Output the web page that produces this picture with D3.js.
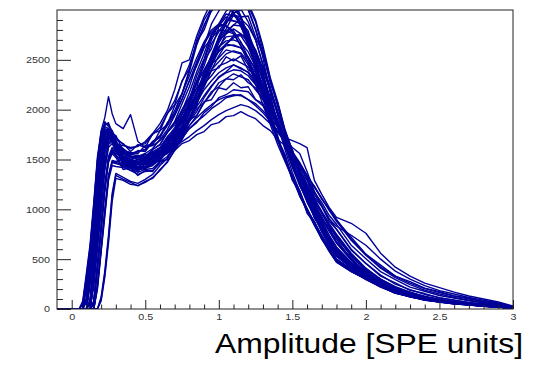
<!DOCTYPE html>
<html>
<head>
<meta charset="utf-8">
<script src="https://cdn.jsdelivr.net/npm/d3@7"></script>
<style>
    html, body { margin: 0; padding: 0; background: #fff; }
    svg { display: block; }
</style>
</head>
<body>
<div id="chart"></div>
<script>
// Bin centres in SPE units (finer steps on the pedestal edge)
const amplitudeBins = [-0.1, 0.05, 0.075, 0.1, 0.125, 0.15, 0.175, 0.2, 0.225, 0.25, 0.275, 0.3,
    0.35, 0.4, 0.45, 0.5, 0.55, 0.6, 0.65, 0.7, 0.75, 0.8,
    0.85, 0.9, 0.95, 1.0, 1.05, 1.1, 1.15, 1.2, 1.25, 1.3,
    1.35, 1.4, 1.45, 1.5, 1.55, 1.6, 1.65, 1.7, 1.75, 1.8,
    1.9, 2.0, 2.1, 2.2, 2.3, 2.4, 2.5, 2.6, 2.7, 2.8, 2.9, 3.0];

// One spectrum per channel, counts per bin
const run01 = [0, 0, 60, 330, 620, 1040, 1500, 1760, 1860, 1850, 1780, 1720,
    1650, 1610, 1640, 1660, 1750, 1820, 1960, 2090, 2280, 2450,
    2670, 2840, 3010, 3090, 3120, 3060, 2920, 2690, 2470, 2190,
    1960, 1700, 1520, 1310, 1160, 980, 860, 710, 600, 480,
    380, 305, 228, 160, 128, 92, 74, 52, 44, 28, 20, 8];
const run02 = [0, 0, 0, 250, 560, 930, 1380, 1700, 1830, 1810, 1750, 1680,
    1500, 1430, 1460, 1450, 1520, 1550, 1660, 1740, 1910, 2050,
    2270, 2440, 2660, 2780, 2900, 2890, 2880, 2730, 2580, 2330,
    2110, 1860, 1660, 1440, 1270, 1080, 940, 780, 650, 530,
    415, 325, 240, 175, 138, 98, 80, 58, 46, 31, 21, 9];
const run03 = [0, 0, 0, 90, 420, 780, 1180, 1560, 1760, 1790, 1730, 1650,
    1440, 1410, 1370, 1400, 1410, 1480, 1530, 1640, 1740, 1910,
    2070, 2290, 2480, 2700, 2860, 3000, 3040, 3010, 2810, 2570,
    2290, 2060, 1790, 1580, 1340, 1170, 980, 850, 690, 580,
    445, 335, 242, 184, 132, 104, 76, 62, 44, 33, 20, 9];
const run04 = [0, 0, 0, 0, 280, 620, 1000, 1430, 1690, 1770, 1710, 1640,
    1600, 1540, 1590, 1580, 1680, 1720, 1870, 1960, 2160, 2380,
    2650, 2850, 2990, 3060, 3080, 2960, 2850, 2630, 2450, 2170,
    1970, 1710, 1550, 1320, 1190, 990, 880, 730, 620, 500,
    395, 312, 232, 168, 130, 94, 77, 54, 45, 29, 20, 8];
const run05 = [0, 0, 0, 0, 70, 450, 830, 1250, 1590, 1730, 1700, 1620,
    1460, 1450, 1400, 1460, 1470, 1550, 1600, 1720, 1840, 2010,
    2170, 2380, 2530, 2700, 2760, 2810, 2760, 2670, 2490, 2300,
    2060, 1860, 1630, 1460, 1260, 1110, 940, 820, 660, 560,
    435, 340, 246, 186, 136, 108, 80, 64, 47, 35, 22, 9];
const run06 = [0, 0, 0, 0, 0, 260, 640, 1030, 1420, 1650, 1680, 1600,
    1510, 1480, 1470, 1510, 1530, 1610, 1670, 1790, 1880, 2020,
    2120, 2260, 2340, 2440, 2470, 2510, 2470, 2430, 2310, 2200,
    2030, 1890, 1700, 1550, 1360, 1220, 1050, 930, 790, 700,
    495, 375, 265, 205, 148, 115, 83, 66, 47, 36, 23, 10];
const run07 = [0, 0, 0, 0, 0, 60, 420, 800, 1200, 1490, 1580, 1540,
    1420, 1390, 1350, 1380, 1390, 1460, 1510, 1620, 1730, 1900,
    2060, 2300, 2500, 2730, 2900, 3060, 3110, 3070, 2900, 2640,
    2320, 2080, 1800, 1590, 1350, 1180, 990, 860, 700, 590,
    445, 330, 250, 178, 140, 100, 82, 58, 47, 31, 21, 9];
const run08 = [0, 0, 0, 0, 0, 0, 220, 590, 960, 1310, 1470, 1460,
    1440, 1390, 1400, 1410, 1470, 1510, 1610, 1690, 1840, 1970,
    2160, 2320, 2510, 2630, 2730, 2740, 2740, 2630, 2500, 2290,
    2100, 1870, 1690, 1470, 1310, 1120, 990, 830, 710, 580,
    450, 345, 258, 190, 142, 110, 84, 66, 49, 35, 23, 10];
const run09 = [0, 0, 0, 0, 0, 0, 0, 100, 350, 700, 1130, 1340,
    1300, 1270, 1235, 1280, 1310, 1400, 1470, 1600, 1700, 1840,
    1940, 2070, 2160, 2270, 2310, 2360, 2330, 2300, 2200, 2110,
    1960, 1840, 1670, 1540, 1370, 1240, 1080, 970, 830, 740,
    545, 395, 300, 215, 168, 122, 97, 70, 55, 39, 28, 12];
const run10 = [0, 0, 0, 230, 540, 900, 1350, 1680, 1800, 1790, 1720, 1670,
    1610, 1550, 1540, 1530, 1560, 1550, 1570, 1590, 1660, 1690,
    1750, 1780, 1850, 1870, 1930, 1940, 1980, 1940, 1910, 1840,
    1790, 1700, 1640, 1530, 1450, 1320, 1230, 1100, 1010, 890,
    720, 550, 440, 330, 275, 210, 175, 130, 108, 75, 54, 20];
const run11 = [0, 0, 0, 110, 440, 800, 1200, 1580, 1780, 1810, 1750, 1690,
    1570, 1520, 1540, 1530, 1600, 1650, 1770, 1850, 2000, 2120,
    2280, 2390, 2520, 2580, 2660, 2640, 2620, 2520, 2410, 2230,
    2080, 1880, 1720, 1520, 1370, 1190, 1060, 900, 800, 670,
    495, 355, 270, 190, 148, 105, 84, 60, 47, 33, 23, 10];
const run12 = [0, 0, 0, 0, 300, 650, 1040, 1460, 1720, 1790, 1720, 1650,
    1500, 1450, 1470, 1460, 1520, 1570, 1690, 1780, 1960, 2100,
    2340, 2510, 2740, 2850, 2960, 2940, 2910, 2760, 2590, 2340,
    2110, 1850, 1650, 1430, 1260, 1070, 930, 770, 640, 530,
    410, 318, 236, 172, 134, 96, 78, 56, 45, 30, 20, 8];
const run13 = [0, 0, 0, 0, 90, 470, 860, 1280, 1620, 1760, 1720, 1650,
    1640, 1620, 1630, 1680, 1760, 1860, 1990, 2200, 2470, 2500,
    2740, 2930, 3080, 3150, 3160, 3090, 2940, 2730, 2480, 2210,
    1950, 1710, 1500, 1310, 1140, 980, 840, 700, 580, 470,
    375, 300, 220, 160, 122, 90, 70, 52, 40, 28, 19, 8];
const run14 = [0, 0, 0, 0, 0, 280, 660, 1060, 1450, 1680, 1700, 1620,
    1480, 1420, 1420, 1410, 1460, 1490, 1580, 1650, 1790, 1910,
    2100, 2260, 2460, 2610, 2770, 2850, 2910, 2840, 2700, 2450,
    2230, 1980, 1770, 1540, 1360, 1160, 1020, 850, 720, 600,
    455, 338, 254, 186, 142, 106, 82, 62, 48, 33, 22, 9];
const run15 = [0, 0, 0, 0, 0, 80, 440, 830, 1230, 1510, 1600, 1560,
    1530, 1500, 1480, 1490, 1520, 1560, 1610, 1680, 1760, 1840,
    1920, 1990, 2050, 2100, 2130, 2150, 2140, 2100, 2040, 1970,
    1880, 1780, 1720, 1690, 1660, 1620, 1290, 1150, 1020, 920,
    860, 760, 560, 420, 330, 260, 215, 170, 130, 100, 70, 30];
const run16 = [0, 0, 0, 0, 0, 0, 240, 610, 990, 1330, 1480, 1470,
    1450, 1430, 1390, 1430, 1450, 1520, 1560, 1650, 1710, 1810,
    1870, 1970, 2030, 2120, 2150, 2200, 2190, 2180, 2100, 2040,
    1920, 1830, 1690, 1580, 1430, 1320, 1170, 1070, 940, 850,
    640, 505, 375, 295, 220, 178, 135, 110, 82, 63, 41, 18];
const run17 = [0, 0, 40, 300, 600, 1020, 1480, 1790, 1920, 2130, 1960, 1860,
    1810, 1950, 1680, 1620, 1640, 1690, 1770, 1870, 1990, 2120,
    2260, 2400, 2530, 2630, 2690, 2700, 2670, 2580, 2430, 2250,
    2050, 1850, 1650, 1460, 1290, 1120, 970, 830, 700, 590,
    455, 345, 256, 190, 145, 110, 85, 65, 50, 36, 24, 10];
const run18 = [0, 0, 0, 70, 400, 760, 1160, 1540, 1740, 1770, 1710, 1630,
    1460, 1420, 1400, 1410, 1440, 1500, 1580, 1680, 1810, 1970,
    2150, 2350, 2550, 2730, 2880, 2970, 3000, 3040, 2880, 2600,
    2300, 2030, 1780, 1550, 1340, 1160, 990, 840, 700, 580,
    445, 332, 248, 182, 136, 102, 79, 60, 46, 32, 21, 9];
const run19 = [0, 0, 0, 0, 50, 430, 810, 1230, 1570, 1710, 1680, 1600,
    1500, 1470, 1450, 1470, 1500, 1550, 1620, 1710, 1810, 1920,
    2030, 2140, 2240, 2320, 2370, 2400, 2390, 2340, 2250, 2140,
    2000, 1850, 1700, 1550, 1400, 1250, 1110, 980, 860, 750,
    560, 410, 300, 225, 168, 128, 97, 74, 56, 41, 28, 12];
const run20 = [0, 0, 0, 0, 0, 0, 0, 80, 320, 660, 1080, 1310,
    1290, 1250, 1240, 1270, 1320, 1390, 1480, 1590, 1730, 1890,
    2080, 2290, 2490, 2670, 2790, 2850, 2840, 2740, 2570, 2350,
    2110, 1880, 1660, 1460, 1280, 1110, 960, 820, 680, 570,
    440, 334, 250, 180, 138, 103, 80, 61, 46, 33, 22, 9];
const run21 = [0, 0, 0, 270, 590, 960, 1420, 1730, 1880, 1830, 1790, 1700,
    1660, 1580, 1650, 1620, 1760, 1790, 1960, 2050, 2290, 2410,
    2680, 2800, 3000, 3040, 3080, 3010, 2930, 2660, 2490, 2170,
    1990, 1690, 1540, 1290, 1180, 960, 870, 700, 610, 480,
    378, 300, 230, 158, 126, 88, 73, 50, 43, 27, 19, 8];
const run22 = [0, 0, 0, 0, 260, 600, 980, 1400, 1660, 1750, 1690, 1600,
    1450, 1490, 1420, 1480, 1470, 1590, 1620, 1780, 1870, 2090,
    2220, 2490, 2610, 2830, 2870, 2960, 2880, 2790, 2540, 2380,
    2080, 1900, 1630, 1480, 1240, 1110, 910, 810, 640, 550,
    428, 328, 234, 180, 130, 104, 74, 62, 44, 34, 20, 9];
const run23 = [0, 0, 0, 0, 0, 240, 620, 1000, 1390, 1620, 1660, 1580,
    1540, 1460, 1500, 1480, 1570, 1580, 1710, 1750, 1920, 1990,
    2170, 2230, 2390, 2420, 2530, 2490, 2540, 2400, 2350, 2170,
    2070, 1860, 1740, 1520, 1400, 1190, 1080, 900, 820, 670,
    515, 355, 285, 190, 158, 105, 90, 60, 51, 32, 25, 9];
const run24 = [0, 0, 0, 0, 0, 0, 200, 570, 930, 1290, 1440, 1430,
    1420, 1450, 1380, 1460, 1480, 1540, 1590, 1720, 1760, 1900,
    1940, 2080, 2100, 2220, 2200, 2270, 2220, 2230, 2100, 2060,
    1900, 1830, 1650, 1560, 1380, 1290, 1120, 1030, 880, 800,
    590, 460, 330, 262, 188, 155, 110, 90, 64, 52, 31, 14];
const run25 = [0, 0, 80, 360, 650, 1070, 1530, 1780, 1840, 1870, 1760, 1740,
    1590, 1560, 1580, 1600, 1660, 1730, 1840, 1950, 2110, 2290,
    2440, 2620, 2720, 2800, 2790, 2760, 2640, 2510, 2300, 2120,
    1880, 1700, 1500, 1330, 1150, 1010, 860, 740, 610, 500,
    395, 315, 232, 170, 130, 96, 76, 57, 44, 31, 20, 8];
const run26 = [0, 0, 0, 0, 0, 40, 400, 780, 1180, 1470, 1560, 1520,
    1400, 1420, 1340, 1390, 1380, 1480, 1500, 1650, 1710, 1930,
    2040, 2310, 2440, 2700, 2810, 2950, 2930, 2940, 2730, 2560,
    2270, 2070, 1770, 1600, 1330, 1190, 970, 870, 680, 590,
    450, 336, 244, 185, 134, 105, 75, 62, 44, 33, 20, 9];
const run27 = [0, 0, 0, 100, 430, 790, 1190, 1570, 1770, 1800, 1740, 1660,
    1580, 1530, 1520, 1550, 1540, 1590, 1620, 1680, 1740, 1810,
    1880, 1940, 2010, 2060, 2120, 2140, 2150, 2100, 2060, 1990,
    1900, 1790, 1700, 1580, 1470, 1340, 1220, 1110, 990, 880,
    690, 540, 410, 315, 245, 190, 150, 115, 88, 64, 44, 18];
const run28 = [0, 0, 0, 0, 80, 460, 850, 1270, 1610, 1750, 1690, 1630,
    1590, 1570, 1560, 1640, 1650, 1790, 1850, 2040, 2160, 2400,
    2700, 2900, 3020, 3080, 3060, 2980, 2830, 2680, 2400, 2190,
    1920, 1740, 1490, 1340, 1130, 1000, 840, 710, 580, 470,
    378, 308, 222, 166, 120, 94, 68, 54, 40, 29, 18, 8];
const run29 = [0, 0, 0, 0, 0, 0, 0, 120, 380, 740, 1160, 1360,
    1320, 1280, 1260, 1300, 1350, 1440, 1510, 1640, 1730, 1880,
    1980, 2120, 2230, 2330, 2380, 2450, 2410, 2380, 2290, 2180,
    2030, 1880, 1720, 1560, 1390, 1250, 1090, 960, 830, 720,
    530, 385, 290, 210, 160, 118, 92, 68, 52, 37, 26, 11];
const run30 = [0, 0, 0, 0, 320, 680, 1060, 1490, 1740, 1800, 1740, 1660,
    1480, 1430, 1430, 1420, 1470, 1500, 1590, 1660, 1780, 1900,
    2060, 2230, 2400, 2540, 2660, 2720, 2750, 2720, 2590, 2400,
    2190, 1970, 1760, 1560, 1370, 1190, 1030, 880, 740, 620,
    470, 350, 262, 194, 148, 112, 86, 67, 51, 36, 24, 10];
const run31 = [0, 0, 0, 220, 530, 890, 1330, 1660, 1790, 1760, 1700, 1640,
    1560, 1500, 1520, 1510, 1560, 1580, 1670, 1720, 1830, 1890,
    2010, 2070, 2180, 2230, 2310, 2300, 2350, 2270, 2220, 2100,
    2010, 1850, 1730, 1580, 1420, 1300, 1150, 1030, 910, 800,
    600, 455, 340, 250, 195, 146, 114, 86, 66, 48, 32, 14];
const run32 = [0, 0, 0, 0, 0, 300, 680, 1080, 1470, 1700, 1720, 1640,
    1500, 1470, 1470, 1480, 1530, 1570, 1660, 1760, 1870, 2020,
    2180, 2340, 2480, 2590, 2640, 2650, 2620, 2530, 2390, 2220,
    2030, 1830, 1650, 1460, 1290, 1130, 980, 840, 710, 600,
    460, 344, 258, 190, 146, 110, 85, 66, 50, 36, 24, 10];
const run33 = [0, 0, 0, 0, 0, 0, 250, 620, 990, 1340, 1490, 1480,
    1500, 1470, 1500, 1510, 1600, 1650, 1780, 1880, 2060, 2230,
    2460, 2640, 2860, 2990, 3100, 3120, 3060, 3000, 2800, 2520,
    2160, 1850, 1600, 1370, 1180, 1000, 860, 720, 590, 480,
    380, 302, 224, 162, 124, 91, 71, 53, 41, 28, 19, 8];
const run34 = [0, 0, 0, 80, 410, 770, 1170, 1550, 1750, 1780, 1720, 1640,
    1510, 1490, 1470, 1500, 1550, 1620, 1700, 1800, 1920, 2040,
    2170, 2290, 2400, 2480, 2560, 2590, 2570, 2480, 2370, 2200,
    2040, 1870, 1700, 1620, 1560, 1380, 1180, 1040, 900, 830,
    740, 640, 500, 380, 300, 235, 185, 150, 115, 88, 60, 25];
const run35 = [0, 0, 0, 0, 60, 440, 820, 1240, 1580, 1720, 1690, 1610,
    1560, 1530, 1500, 1520, 1540, 1560, 1580, 1620, 1680, 1730,
    1790, 1840, 1900, 1950, 1990, 2020, 2050, 2030, 1990, 1930,
    1860, 1770, 1680, 1570, 1460, 1340, 1230, 1110, 1000, 900,
    700, 545, 420, 330, 260, 205, 165, 130, 100, 74, 50, 20];
const run36 = [0, 0, 0, 0, 0, 80, 450, 840, 1240, 1530, 1620, 1580,
    1560, 1520, 1530, 1560, 1610, 1700, 1800, 1940, 2100, 2290,
    2480, 2660, 2780, 2850, 2840, 2790, 2680, 2520, 2320, 2110,
    1900, 1690, 1500, 1320, 1160, 1000, 860, 730, 600, 490,
    390, 312, 230, 168, 128, 95, 75, 56, 43, 30, 20, 8];
const run37 = [0, 0, 0, 0, 240, 590, 960, 1390, 1650, 1760, 1700, 1620,
    1520, 1470, 1500, 1490, 1560, 1610, 1720, 1820, 1990, 2170,
    2380, 2560, 2760, 2840, 2930, 2890, 2860, 2700, 2530, 2290,
    2060, 1820, 1640, 1420, 1240, 1090, 920, 790, 650, 540,
    420, 315, 236, 170, 132, 96, 78, 56, 45, 31, 20, 8];
const run38 = [0, 0, 0, 0, 0, 270, 650, 1050, 1440, 1670, 1690, 1610,
    1470, 1450, 1410, 1450, 1470, 1540, 1600, 1700, 1800, 1960,
    2110, 2300, 2440, 2590, 2660, 2740, 2760, 2700, 2600, 2410,
    2200, 1980, 1750, 1560, 1360, 1180, 1020, 880, 740, 620,
    460, 345, 256, 190, 145, 110, 84, 65, 50, 35, 23, 10];
const run39 = [0, 0, 0, 240, 550, 920, 1360, 1690, 1810, 1800, 1730, 1660,
    1540, 1500, 1530, 1520, 1580, 1620, 1730, 1800, 1950, 2060,
    2210, 2330, 2460, 2520, 2600, 2580, 2560, 2450, 2340, 2170,
    2010, 1830, 1680, 1500, 1350, 1180, 1040, 900, 780, 660,
    490, 360, 268, 196, 150, 110, 86, 64, 49, 35, 24, 10];
const run40 = [0, 0, 0, 0, 0, 70, 430, 820, 1220, 1500, 1590, 1550,
    1460, 1410, 1420, 1430, 1490, 1530, 1640, 1740, 1900, 2080,
    2290, 2490, 2700, 2860, 2990, 3040, 3010, 2880, 2700, 2450,
    2190, 1940, 1710, 1490, 1300, 1120, 960, 820, 680, 560,
    440, 328, 245, 178, 136, 101, 79, 60, 46, 32, 21, 9];
const run41 = [0, 0, 0, 0, 90, 460, 850, 1260, 1600, 1740, 1700, 1610,
    1480, 1460, 1430, 1480, 1500, 1580, 1640, 1750, 1840, 1970,
    2070, 2200, 2290, 2370, 2420, 2450, 2420, 2370, 2260, 2150,
    2000, 1860, 1700, 1540, 1390, 1240, 1100, 960, 840, 730,
    540, 400, 296, 220, 165, 124, 95, 72, 54, 40, 27, 11];
const run42 = [0, 0, 0, 100, 430, 790, 1200, 1570, 1770, 1790, 1740, 1670,
    1590, 1550, 1580, 1600, 1680, 1740, 1860, 1990, 2160, 2340,
    2520, 2680, 2800, 2860, 2840, 2770, 2640, 2470, 2260, 2050,
    1850, 1650, 1480, 1310, 1150, 1000, 860, 730, 610, 500,
    390, 295, 222, 164, 126, 93, 74, 55, 42, 29, 19, 8];

const runs = [run01, run02, run03, run04, run05, run06, run07, run08, run09, run10,
    run11, run12, run13, run14, run15, run16, run17, run18, run19, run20,
    run21, run22, run23, run24, run25, run26, run27, run28, run29, run30,
    run31, run32, run33, run34, run35, run36, run37, run38, run39, run40,
    run41, run42];

const xMajorTicks = [0, 0.5, 1, 1.5, 2, 2.5, 3];
const yMajorTicks = [0, 500, 1000, 1500, 2000, 2500];
const xTitle = 'Amplitude [SPE units]';

class SpectrumOverlay {
    constructor(bins, spectra, config) {
        this.bins = bins;
        this.spectra = spectra;
        this.config = {
            parentElement: config?.parentElement || 'body',
            width: config?.width || 533,
            height: config?.height || 366,
            margin: config?.margin || { top: 10, right: 20, bottom: 57, left: 57 },
            lineColor: config?.lineColor || '#000099',
            xDomain: config?.xDomain || [-0.1, 3],
            yDomain: config?.yDomain || [0, 3000]
        };
        this.initViz();
    }

    initViz() {
        const that = this;
        const m = that.config.margin;

        that.boundedWidth = that.config.width - m.left - m.right;
        that.boundedHeight = that.config.height - m.top - m.bottom;

        that.xScale = d3.scaleLinear()
            .domain(that.config.xDomain)
            .range([0, that.boundedWidth]);

        that.yScale = d3.scaleLinear()
            .domain(that.config.yDomain)
            .range([that.boundedHeight, 0]);

        that.svg = d3.select(that.config.parentElement)
            .append('svg')
            .attr('width', that.config.width)
            .attr('height', that.config.height);

        that.svg.append('defs').append('clipPath')
            .attr('id', 'frame-clip')
            .append('rect')
            .attr('width', that.boundedWidth)
            .attr('height', that.boundedHeight);

        that.viz = that.svg.append('g')
            .attr('transform', `translate(${m.left}, ${m.top})`);

        that.renderViz();
    }

    renderViz() {
        const that = this;
        const line = d3.line()
            .x((d, i) => that.xScale(that.bins[i]))
            .y(d => that.yScale(d));

        // Spectra, clipped to the frame like ROOT does
        that.viz.append('g')
            .attr('clip-path', 'url(#frame-clip)')
            .selectAll('.spectrum')
            .data(that.spectra)
            .join('path')
            .attr('class', 'spectrum')
            .attr('d', line)
            .attr('fill', 'none')
            .attr('stroke', that.config.lineColor)
            .attr('stroke-width', 1.4)
            .attr('stroke-linejoin', 'round');

        // Frame
        that.viz.append('rect')
            .attr('width', that.boundedWidth)
            .attr('height', that.boundedHeight)
            .attr('fill', 'none')
            .attr('stroke', '#222')
            .attr('stroke-width', 1);

        const xMinor = d3.range(1, 30).map(d => d / 10).filter(d => Math.round(d * 10) % 5 !== 0);
        const yMinor = d3.range(1, 30).map(d => d * 100).filter(d => d % 500 !== 0);

        // Ticks point inwards
        const xAxisGroup = that.viz.append('g')
            .attr('transform', `translate(0, ${that.boundedHeight})`);
        xAxisGroup.append('g')
            .call(d3.axisBottom(that.xScale).tickValues(xMinor).tickSize(-4.5).tickFormat(''));
        xAxisGroup.append('g')
            .call(d3.axisBottom(that.xScale).tickValues(xMajorTicks).tickSize(-9).tickPadding(5)
                .tickFormat(d3.format('~g')));

        const yAxisGroup = that.viz.append('g');
        yAxisGroup.append('g')
            .call(d3.axisLeft(that.yScale).tickValues(yMinor).tickSize(-6).tickFormat(''));
        yAxisGroup.append('g')
            .call(d3.axisLeft(that.yScale).tickValues(yMajorTicks).tickSize(-14).tickPadding(7)
                .tickFormat(d3.format('d')));

        that.viz.selectAll('.domain').remove();
        that.viz.selectAll('.tick line').attr('stroke', '#222');
        that.viz.selectAll('.tick text')
            .attr('fill', '#333')
            .style('font-family', '"Liberation Sans", Arial, sans-serif')
            .style('font-size', '9px');
        // ROOT labels look horizontally stretched
        xAxisGroup.selectAll('.tick text').attr('transform', 'scale(1.2,1)');
        yAxisGroup.selectAll('.tick text').attr('x', -7 / 1.2).attr('transform', 'scale(1.2,1)');

        // Axis title, right aligned under the frame
        that.svg.append('text')
            .attr('x', 215)
            .attr('y', 353)
            .attr('textLength', 308)
            .attr('lengthAdjust', 'spacingAndGlyphs')
            .style('font-family', '"Liberation Sans", Arial, sans-serif')
            .style('font-size', '27px')
            .attr('fill', '#000')
            .text(xTitle);
    }
}

new SpectrumOverlay(amplitudeBins, runs, { parentElement: '#chart' });
</script>
</body>
</html>
